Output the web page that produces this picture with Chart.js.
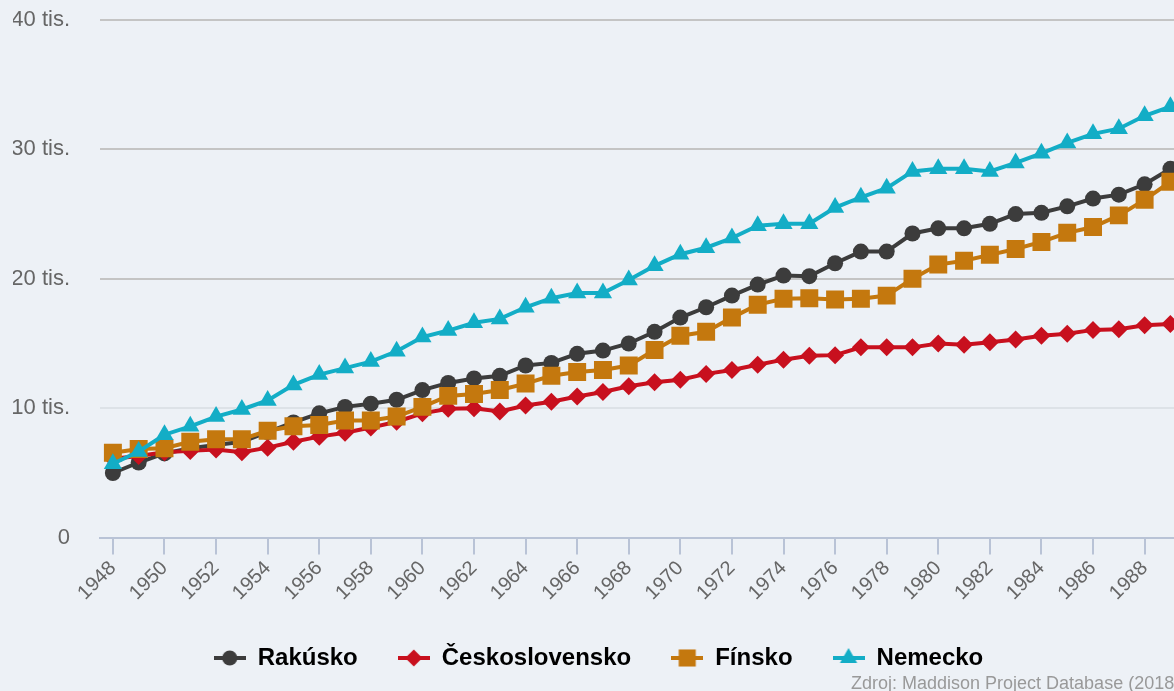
<!DOCTYPE html>
<html><head><meta charset="utf-8">
<script src="https://cdn.jsdelivr.net/npm/chart.js@4"></script>
<style>
html,body{margin:0;padding:0;background:#edf1f6;overflow:hidden;}
#wrap{position:relative;width:1174px;height:691px;overflow:hidden;background:#edf1f6;}
canvas{position:absolute;left:0;top:0;}
#credit{position:absolute;left:851px;top:672px;font:18px "Liberation Sans",Arial,sans-serif;color:#999;white-space:nowrap;line-height:22px;}
</style></head><body>
<div id="wrap"><canvas id="c" width="1196" height="691"></canvas><div id="credit">Zdroj: Maddison Project Database (2018)</div></div>
<script>
const years = ['1948','1949','1950','1951','1952','1953','1954','1955','1956','1957','1958','1959','1960','1961','1962','1963','1964','1965','1966','1967','1968','1969','1970','1971','1972','1973','1974','1975','1976','1977','1978','1979','1980','1981','1982','1983','1984','1985','1986','1987','1988','1989'];
const rakusko = [4990,5800,6500,6900,7150,7400,8150,8900,9600,10100,10350,10650,11400,11950,12300,12500,13300,13500,14200,14450,15000,15900,17000,17800,18700,19550,20250,20200,21200,22100,22100,23500,23900,23900,24250,25000,25100,25600,26200,26500,27300,28500];
const ceskoslovensko = [6100,6300,6600,6700,6800,6600,6950,7400,7800,8100,8500,8950,9600,9950,10000,9750,10200,10500,10900,11250,11700,12000,12200,12650,12950,13350,13750,14050,14100,14700,14700,14700,15000,14900,15100,15300,15600,15750,16050,16100,16400,16500];
const finsko = [6550,6850,6900,7400,7600,7600,8250,8600,8700,9050,9050,9350,10100,10950,11100,11400,11900,12500,12800,12950,13300,14500,15600,15900,17000,18000,18450,18500,18400,18450,18700,20000,21100,21400,21850,22300,22850,23550,24000,24900,26100,27500];
const nemecko = [5700,6650,7950,8600,9350,9900,10600,11800,12600,13100,13600,14400,15500,16000,16600,16900,17800,18500,18900,18900,19900,21000,21900,22400,23150,24100,24250,24250,25500,26300,27000,28300,28500,28500,28300,28950,29700,30500,31200,31600,32600,33300];
const yTickLabels = ['0','10 tis.','20 tis.','30 tis.','40 tis.'];
const seriesNames = ['Rakúsko','Československo','Fínsko','Nemecko'];

Chart.defaults.font.family = '"Liberation Sans", Arial, Helvetica, sans-serif';

function shapePath(ctx, style, x, y, r) {
  ctx.beginPath();
  if (style === 'circle') { ctx.arc(x, y, r, 0, Math.PI * 2); }
  else if (style === 'rectRot') { ctx.moveTo(x - r, y); ctx.lineTo(x, y - r); ctx.lineTo(x + r, y); ctx.lineTo(x, y + r); }
  else if (style === 'rect') { const s = r * Math.SQRT1_2; ctx.rect(x - s, y - s, 2 * s, 2 * s); }
  else if (style === 'triangle') {
    for (let k = 0; k < 3; k++) { const a = k * 2 * Math.PI / 3; const px = x + Math.sin(a) * r, py = y - Math.cos(a) * r; k ? ctx.lineTo(px, py) : ctx.moveTo(px, py); }
  }
  ctx.closePath();
}
const symbolCache = {};
function makeSymbol(ds) {
  if (symbolCache[ds.label]) return symbolCache[ds.label];
  const c = document.createElement('canvas');
  c.width = 32; c.height = 22;
  const g = c.getContext('2d');
  g.strokeStyle = ds.borderColor; g.lineWidth = 4;
  g.beginPath(); g.moveTo(0, 11); g.lineTo(32, 11); g.stroke();
  g.fillStyle = ds.borderColor;
  shapePath(g, ds.pointStyle, 16, 11, ds.pointRadius * 0.95);
  g.fill();
  symbolCache[ds.label] = c;
  return c;
}

const datasets = [
  { label: seriesNames[0], data: rakusko, borderColor: '#3c3c3c', backgroundColor: '#3c3c3c', pointStyle: 'circle', pointRadius: 8, order: 4 },
  { label: seriesNames[1], data: ceskoslovensko, borderColor: '#c8101e', backgroundColor: '#c8101e', pointStyle: 'rectRot', pointRadius: 9, order: 3 },
  { label: seriesNames[2], data: finsko, borderColor: '#c4780e', backgroundColor: '#c4780e', pointStyle: 'rect', pointRadius: 12.7, order: 2 },
  { label: seriesNames[3], data: nemecko, borderColor: '#13adc6', backgroundColor: '#13adc6', pointStyle: 'triangle', pointRadius: 10.5, order: 1 }
].map(d => Object.assign(d, { borderWidth: 4, tension: 0, pointBorderWidth: 0, pointHoverRadius: d.pointRadius, pointBackgroundColor: d.borderColor, fill: false }));

new Chart(document.getElementById('c'), {
  type: 'line',
  data: { labels: years, datasets },
  options: {
    responsive: false,
    animation: false,
    layout: { padding: { left: 13, right: 12, top: 20, bottom: 11 } },
    plugins: {
      tooltip: { enabled: false },
      legend: {
        position: 'bottom',
        labels: {
          usePointStyle: true, pointStyleWidth: 32, padding: 40, color: '#333',
          font: { size: 24, weight: 'bold' },
          generateLabels(chart) {
            return chart.data.datasets.map((ds, i) => ({ text: ds.label, pointStyle: makeSymbol(ds), fillStyle: ds.borderColor, strokeStyle: ds.borderColor, lineWidth: 0, hidden: !chart.isDatasetVisible(i), datasetIndex: i }));
          }
        }
      }
    },
    scales: {
      x: {
        offset: true,
        afterFit: s => { s.paddingLeft = 0; s.paddingRight = 0; s.height = s.height - 1; },
        grid: { drawOnChartArea: false, tickLength: 17, lineWidth: 2, color: ctx => (ctx.index % 2 === 0 ? '#b9c3d6' : 'rgba(0,0,0,0)') },
        border: { color: '#b9c3d6', width: 2 },
        ticks: { autoSkip: false, minRotation: 45, maxRotation: 45, padding: 2, color: '#666', font: { size: 20 }, callback: (v, i) => (i % 2 === 0 ? years[i] : '') }
      },
      y: {
        min: 0, max: 40000,
        afterFit: s => { s.paddingTop = 0; s.paddingBottom = 0; s.width = 87; },
        grid: { drawTicks: false, lineWidth: 2, color: ctx => (ctx.tick.value === 0 ? 'rgba(0,0,0,0)' : ctx.tick.value === 10000 ? '#dde2e7' : '#c4c4c4') },
        border: { display: false },
        ticks: { stepSize: 10000, padding: 30, color: '#666', font: { size: 22 }, callback: (v, i) => yTickLabels[i] }
      }
    }
  }
});
</script>
</body></html>
